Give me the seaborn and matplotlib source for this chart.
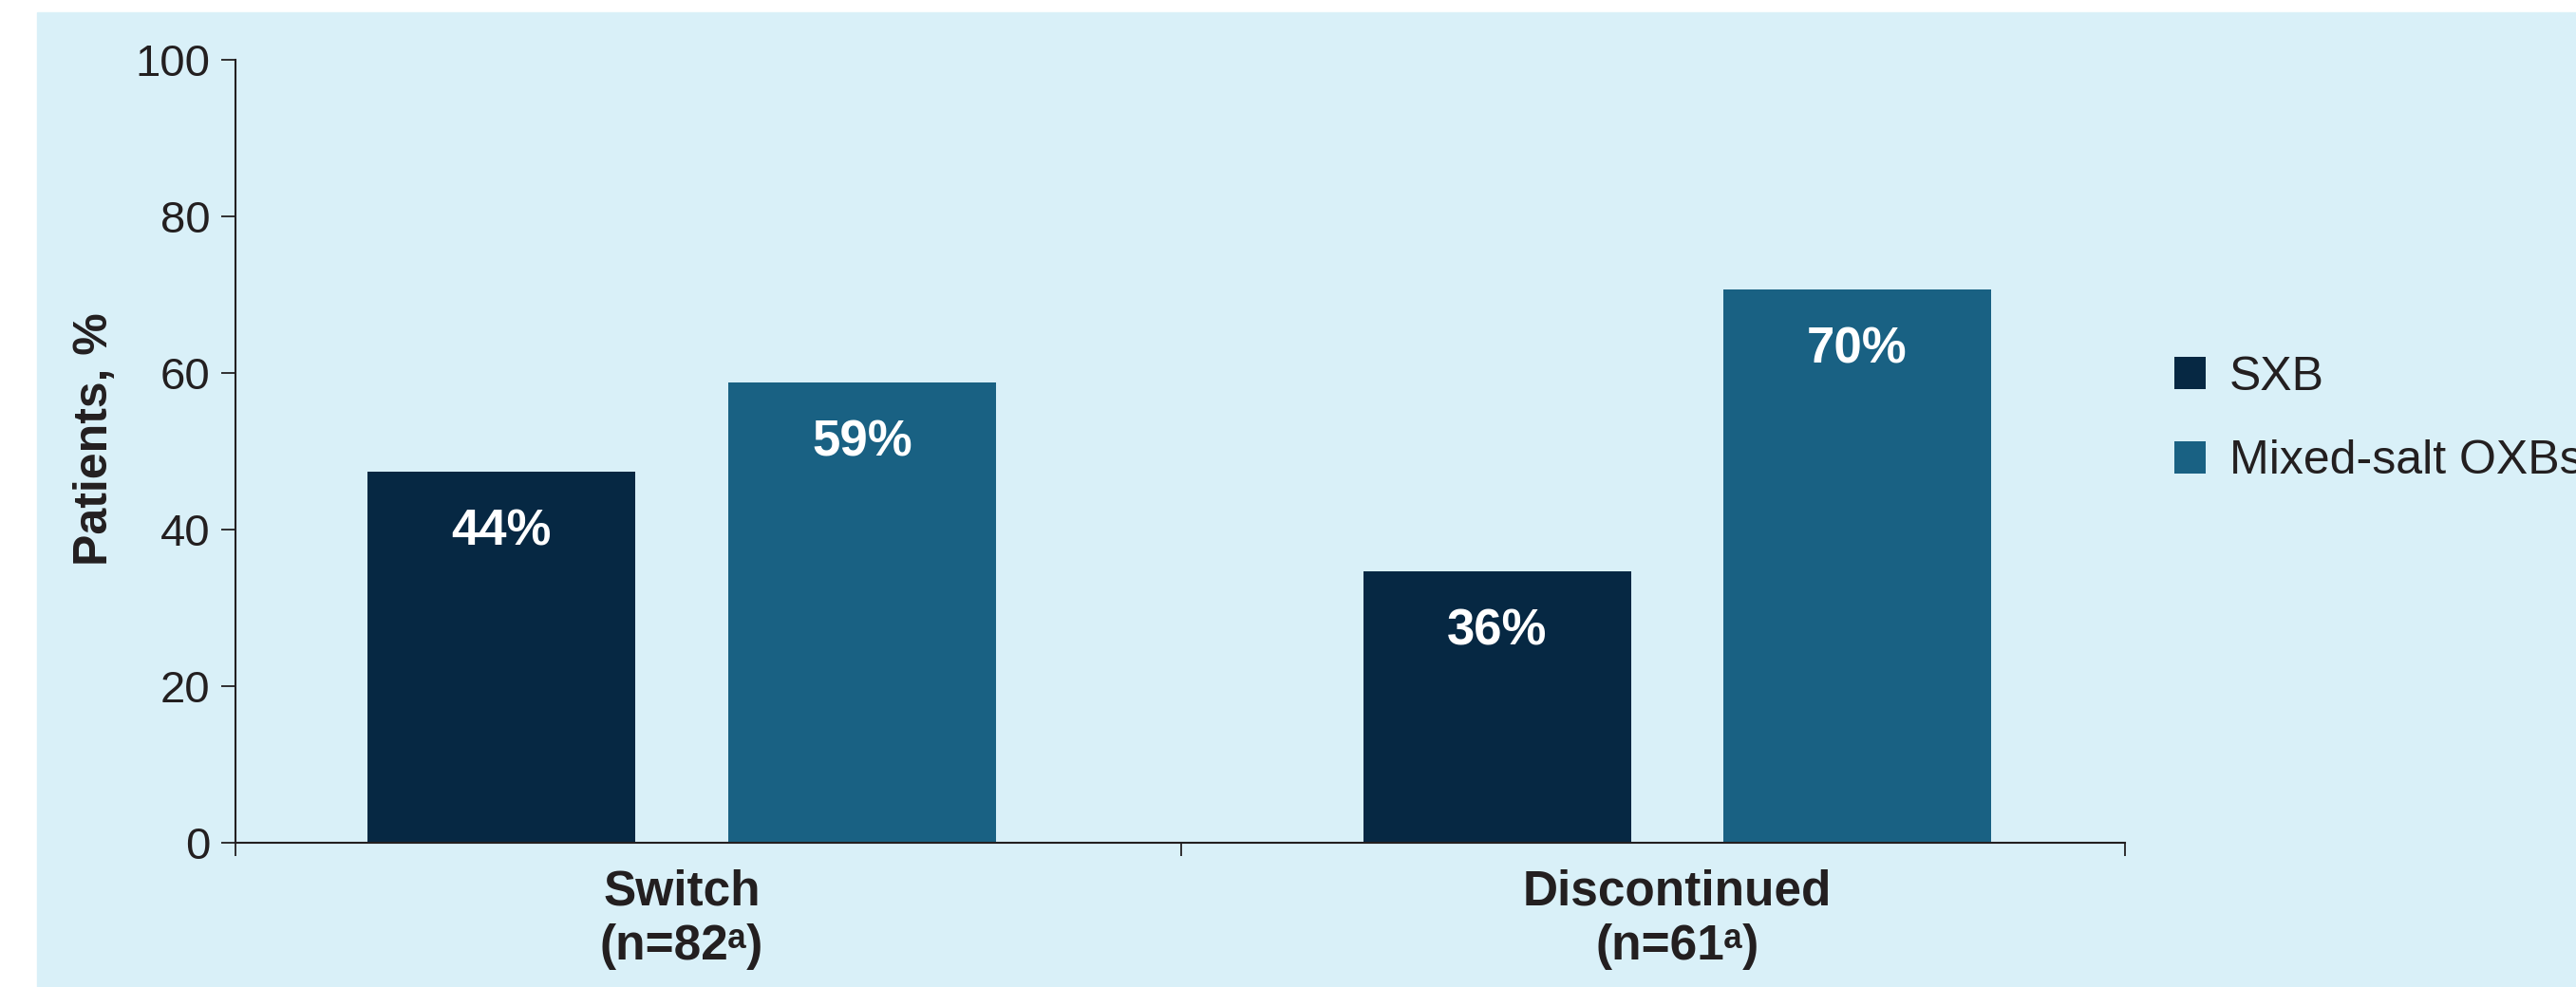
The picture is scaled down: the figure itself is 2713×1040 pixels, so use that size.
import matplotlib
matplotlib.use("Agg")
import matplotlib.pyplot as plt
import matplotlib.patches as mpatches
import seaborn as sns
import pandas as pd

# ---- data ----
categories = ["Switch\n(n=82ᵃ)", "Discontinued\n(n=61ᵃ)"]
groups = ["SXB", "Mixed-salt OXBs"]
sxb_values = [47.4, 34.7]
mixed_values = [58.8, 70.7]
sxb_labels = ["44%", "36%"]
mixed_labels = ["59%", "70%"]
y_ticks = [0, 20, 40, 60, 80, 100]

df = pd.DataFrame({
    "category": categories * 2,
    "group": [groups[0]] * 2 + [groups[1]] * 2,
    "value": sxb_values + mixed_values,
})

BG = "#d9f0f8"
NAVY = "#062843"
TEAL = "#196183"
INK = "#231f20"

sns.set_style("ticks")
COND = ["Liberation Sans Narrow", "Liberation Sans", "DejaVu Sans"]
REG = ["Liberation Sans", "DejaVu Sans"]
plt.rcParams["font.family"] = REG

W, H = 2713, 1040
fig = plt.figure(figsize=(W / 100, H / 100), dpi=100, facecolor="white")
bg = mpatches.Rectangle((39 / W, 0), 1, 1 - 13 / H,
                        transform=fig.transFigure, color=BG, zorder=-10)
fig.add_artist(bg)
ax = fig.add_axes([248 / W, 1 - 888 / H, (2238 - 248) / W, (888 - 63) / H])
ax.set_facecolor("none")
ax.set_zorder(1)

sns.barplot(data=df, x="category", y="value", hue="group", hue_order=groups,
            palette=[NAVY, TEAL], saturation=1, width=0.724, gap=0.257,
            linewidth=0, ax=ax, legend=True)

ax.set_xlim(-0.4485, 1.450)
ax.set_ylim(0, 100)
ax.set_yticks(y_ticks)
ax.set_yticklabels([str(v) for v in y_ticks], fontsize=34, color=INK, family=REG)

for s in ["top", "right"]:
    ax.spines[s].set_visible(False)
for s in ["left", "bottom"]:
    ax.spines[s].set_linewidth(1.5)
    ax.spines[s].set_color(INK)

ax.tick_params(axis="y", length=11, width=1.3, color=INK, pad=8)
ax.tick_params(axis="x", which="major", length=0, pad=20)
ax.set_xticks([-0.4485, 0.502, 1.450], minor=True)
ax.tick_params(axis="x", which="minor", length=10, width=1.3, color=INK, direction="out")
for lbl in ax.get_xticklabels():
    lbl.set_fontfamily(COND)
    lbl.set_fontweight("bold")
    lbl.set_fontsize(37)
    lbl.set_color(INK)
    lbl.set_linespacing(1.22)

ax.set_xlabel("")
ax.set_ylabel("Patients, %", fontsize=36, fontweight="bold", family=COND, color=INK)
ax.yaxis.set_label_coords((123 - 248) / 1990, (888 - 463) / 825)

for cont, labs in zip(ax.containers, [sxb_labels, mixed_labels]):
    ax.bar_label(cont, labels=labs, label_type="edge", padding=-64,
                 color="white", fontsize=38, fontweight="bold", family=COND)

sns.move_legend(ax, "center left", bbox_to_anchor=((2290 - 248) / 1990, (888 - 442) / 825),
                frameon=False, title=None, fontsize=36, handlelength=0.66,
                handleheight=0.66, handletextpad=0.5, labelspacing=0.85,
                borderpad=0, borderaxespad=0)
for t in ax.get_legend().get_texts():
    t.set_color(INK)

fig.savefig("out.png", dpi=100, facecolor="white")
